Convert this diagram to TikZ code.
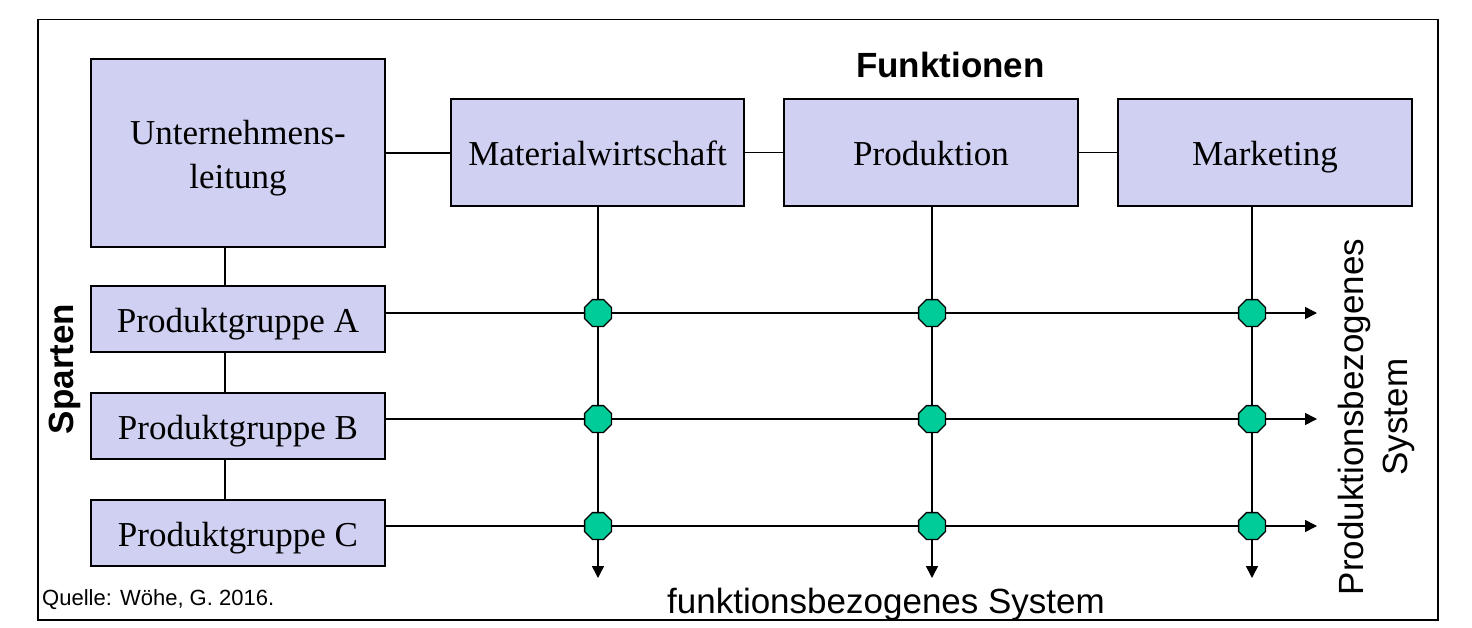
\documentclass[tikz,border=0pt]{standalone}
\usepackage{fontspec}
\setmainfont{Liberation Serif}
\newfontfamily\arialfont{Liberation Sans}
\usetikzlibrary{arrows.meta,shapes.geometric}
\definecolor{boxfill}{RGB}{208,208,242}
\definecolor{knotfill}{RGB}{0,204,153}
\begin{document}
\begin{tikzpicture}[x=1pt,y=-1pt,
  box/.style={draw=black, line width=1.5pt, fill=boxfill, inner sep=0pt,
    font=\fontsize{35}{44}\selectfont, text height=26pt, text depth=0pt},
  boxlabel/.style={font=\fontsize{35}{44}\selectfont, align=center, inner sep=0pt},
  conn/.style={line width=1.5pt},
  flow/.style={line width=1.5pt, -{Triangle[length=12pt,width=12pt]}},
  knot/.style={regular polygon, regular polygon sides=8, minimum size=29pt,
    inner sep=0pt, draw=black, line width=1.3pt, fill=knotfill},
  lbl/.style={font=\arialfont\fontsize{35}{44}\selectfont, inner sep=0pt},
  lblb/.style={font=\arialfont\bfseries\fontsize{35}{44}\selectfont, inner sep=0pt},
]
\useasboundingbox (0,0) rectangle (1472,627);
\draw[line width=1.5pt] (38,19.5) rectangle (1438,620);

% boxes
\node[box, minimum width=294pt, minimum height=188pt,
  label={[boxlabel, yshift=-5pt]center:Unternehmens-\\leitung}] (ul) at (238,153) {};
\node[box, minimum width=293pt, minimum height=107pt] (mat) at (597.5,152.5) {Materialwirtschaft};
\node[box, minimum width=294pt, minimum height=107pt] (prod) at (931,152.5) {Produktion};
\node[box, minimum width=294pt, minimum height=107pt] (mkt) at (1265,152.5) {Marketing};
\node[box, minimum width=294pt, minimum height=66pt] (pgA) at (238,319) {Produktgruppe A};
\node[box, minimum width=294pt, minimum height=66pt] (pgB) at (238,426) {Produktgruppe B};
\node[box, minimum width=294pt, minimum height=66pt] (pgC) at (238,533) {Produktgruppe C};

% coordinates
\coordinate (sx) at (225,0);
\coordinate (endM) at (598,578);
\coordinate (endP) at (932,578);
\coordinate (endK) at (1252,578);
\coordinate (endA) at (1317,313);
\coordinate (endB) at (1317,419);
\coordinate (endC) at (1317,526);

% tree connectors
\draw[conn] (ul.east) -- (ul.east -| mat.west);
\draw[conn] (mat.east) -- (prod.west);
\draw[conn] (prod.east) -- (mkt.west);
\draw[conn] (ul.south -| sx) -- (pgA.north -| sx);
\draw[conn] (pgA.south -| sx) -- (pgB.north -| sx);
\draw[conn] (pgB.south -| sx) -- (pgC.north -| sx);

% matrix lines
\draw[flow] (mat.south -| endM) -- (endM);
\draw[flow] (prod.south -| endP) -- (endP);
\draw[flow] (mkt.south -| endK) -- (endK);
\draw[flow] (pgA.east |- endA) -- (endA);
\draw[flow] (pgB.east |- endB) -- (endB);
\draw[flow] (pgC.east |- endC) -- (endC);

% knots
\foreach \r in {A,B,C}{
  \foreach \c in {M,P,K}{
    \node[knot] (k\c\r) at (end\c |- end\r) {};
  }
}

% labels
\node[lblb, anchor=base] (funk) at (950.5,77) {Funktionen};
\node[lblb, rotate=90, anchor=base] (sparten) at (73,369) {Sparten};
\node[lbl, anchor=base] (fsys) at (886,613) {funktionsbezogenes System};
\node[lbl, rotate=90, align=center] (psys) at (1376,417) {Produktionsbezogenes\\System};
\node[font=\arialfont\fontsize{22}{26}\selectfont, anchor=base west, inner sep=0pt] (quelle) at (42,605) {Quelle: Wöhe, G. 2016.};
\end{tikzpicture}
\end{document}
